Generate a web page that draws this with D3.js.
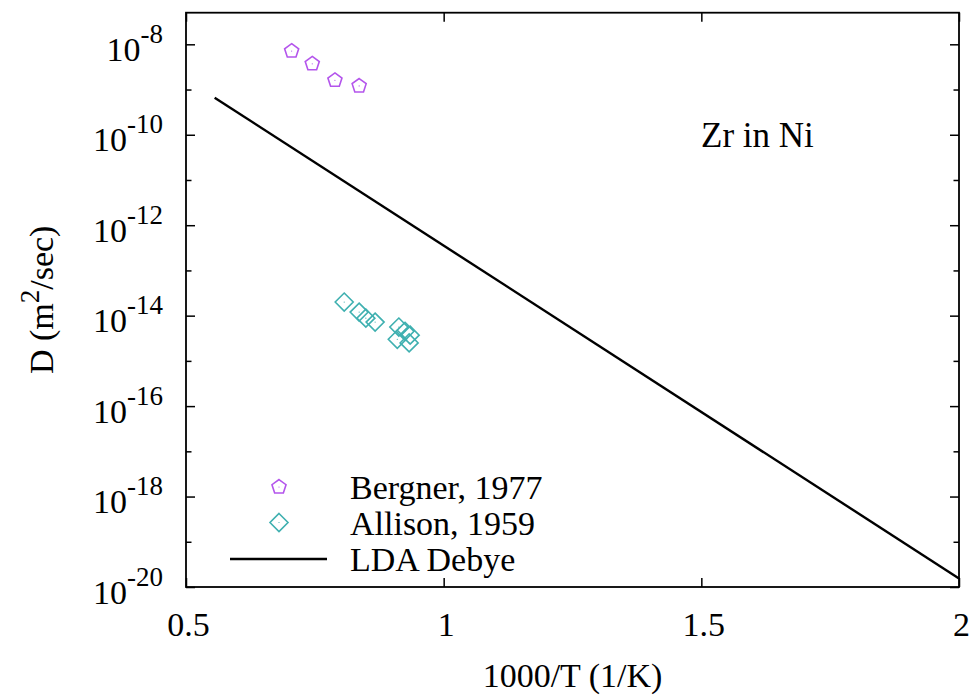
<!DOCTYPE html>
<html>
<head>
<meta charset="utf-8">
<script src="https://cdn.jsdelivr.net/npm/d3@7"></script>
<style>
  html, body { margin: 0; padding: 0; background: #fff; }
  svg { display: block; }
  text { font-family: "Liberation Serif", "Times New Roman", "DejaVu Serif", serif; fill: #000; }
</style>
</head>
<body>
<svg id="chart" width="971" height="695"></svg>
<script>
// Axis ticks
const xTicks = [0.5, 1, 1.5, 2];
const xTickLabels = ["0.5", "1", "1.5", "2"];
const yMajorExp = [-8, -10, -12, -14, -16, -18, -20];
const yMinorExp = [-9, -11, -13, -15, -17, -19];

// Bergner, 1977 (1000/T, D in m^2/s)
const bergnerX = [0.705, 0.745, 0.789, 0.836];
const bergnerD = [7.1e-9, 3.7e-9, 1.6e-9, 1.2e-9];

// Allison, 1959
const allisonX = [0.807, 0.836, 0.849, 0.867, 0.913, 0.925, 0.935, 0.910, 0.933];
const allisonD = [2.0e-14, 1.2e-14, 8.8e-15, 7.2e-15, 5.6e-15, 4.5e-15, 3.7e-15, 3.0e-15, 2.5e-15];

// LDA Debye prediction (Arrhenius line)
const ldaX = [0.5556, 2.0];
const ldaD = [6.6e-10, 1.55e-20];

const W = 971, H = 695;
const margin = { left: 186, right: 12, top: 12.7, bottom: 108 };
const x0 = margin.left, x1 = W - margin.right;
const y0 = margin.top, y1 = H - margin.bottom;

const x = d3.scaleLinear().domain([0.5, 2]).range([x0, x1]);
const y = d3.scaleLog().domain([1e-20, 5e-8]).range([y1, y0]);

const svg = d3.select("#chart");
const fontSize = 34, supSize = 27;
const colBergner = "#b455ec", colAllison = "#3fb0b0";

// Curve
const line = d3.line().x(d => x(d[0])).y(d => y(d[1]));
svg.append("path")
  .datum(d3.zip(ldaX, ldaD))
  .attr("d", line)
  .attr("fill", "none")
  .attr("stroke", "#000")
  .attr("stroke-width", 2.4);

// Marker shapes
function pentagonPath(r) {
  const pts = d3.range(5).map(i => {
    const a = -Math.PI / 2 + i * 2 * Math.PI / 5;
    return [r * Math.cos(a), r * Math.sin(a)];
  });
  return "M" + pts.map(p => p.join(",")).join("L") + "Z";
}
function diamondPath(r) {
  return `M0,${-r}L${r},0L0,${r}L${-r},0Z`;
}

function drawMarkers(g, pts, pathD, color) {
  const m = g.selectAll(null).data(pts).enter().append("g")
    .attr("transform", d => `translate(${x(d[0])},${y(d[1])})`);
  m.append("path").attr("d", pathD)
    .attr("fill", "none").attr("stroke", color).attr("stroke-width", 1.6);
  m.append("circle").attr("r", 0.6).attr("fill", color);
}

const gPts = svg.append("g");
drawMarkers(gPts, d3.zip(allisonX, allisonD), diamondPath(9), colAllison);
drawMarkers(gPts, d3.zip(bergnerX, bergnerD), pentagonPath(7.4), colBergner);

// Axes (ticks inward, mirrored)
const majorLen = 9, minorLen = 5.5;
const yMajor = yMajorExp.map(e => Math.pow(10, e));
const yMinor = yMinorExp.map(e => Math.pow(10, e));

const axL = svg.append("g").attr("transform", `translate(${x0},0)`)
  .call(d3.axisLeft(y).tickValues(yMajor).tickSize(-majorLen).tickPadding(23));
const axLm = svg.append("g").attr("transform", `translate(${x0},0)`)
  .call(d3.axisLeft(y).tickValues(yMinor).tickSize(-minorLen).tickFormat(""));
const axR = svg.append("g").attr("transform", `translate(${x1},0)`)
  .call(d3.axisRight(y).tickValues(yMajor).tickSize(-majorLen).tickFormat(""));
const axRm = svg.append("g").attr("transform", `translate(${x1},0)`)
  .call(d3.axisRight(y).tickValues(yMinor).tickSize(-minorLen).tickFormat(""));
const axB = svg.append("g").attr("transform", `translate(0,${y1})`)
  .call(d3.axisBottom(x).tickValues(xTicks).tickSize(-majorLen)
    .tickFormat((d, i) => xTickLabels[i]));
const axT = svg.append("g").attr("transform", `translate(0,${y0})`)
  .call(d3.axisTop(x).tickValues(xTicks).tickSize(-majorLen).tickFormat(""));

[axL, axLm, axR, axRm, axB, axT].forEach(a => {
  a.select(".domain").remove();
  a.selectAll(".tick line").attr("stroke", "#000").attr("stroke-width", 1.5);
});

// Y tick labels as 10^n
axL.selectAll(".tick text").each(function(d, i) {
  const t = d3.select(this);
  t.text(null).attr("dy", null).attr("y", 16)
    .attr("font-size", fontSize).attr("font-family", null);
  t.append("tspan").text("10");
  t.append("tspan").attr("dy", -18).attr("font-size", supSize)
    .text("-" + Math.abs(yMajorExp[i]));
});

axB.selectAll(".tick text")
  .attr("dy", null).attr("y", 49).attr("dx", 2)
  .attr("font-size", fontSize).attr("font-family", null);

// Frame
svg.append("rect")
  .attr("x", x0).attr("y", y0)
  .attr("width", x1 - x0).attr("height", y1 - y0)
  .attr("fill", "none").attr("stroke", "#000").attr("stroke-width", 1.8);

// Axis titles
svg.append("text")
  .attr("x", (x0 + x1) / 2).attr("y", 687)
  .attr("text-anchor", "middle").attr("font-size", fontSize)
  .text("1000/T (1/K)");

const yl = svg.append("text")
  .attr("transform", `translate(53,${(y0 + y1) / 2}) rotate(-90)`)
  .attr("text-anchor", "middle").attr("font-size", fontSize);
yl.append("tspan").text("D (m");
yl.append("tspan").attr("dy", -14).attr("font-size", supSize).text("2");
yl.append("tspan").attr("dy", 14).text("/sec)");

// Annotation
svg.append("text")
  .attr("x", 701).attr("y", 147).attr("font-size", fontSize + 1)
  .text("Zr in Ni");

// Legend
const legendItems = [
  { label: "Bergner, 1977", kind: "pent", y: 487 },
  { label: "Allison, 1959", kind: "diam", y: 522.5 },
  { label: "LDA Debye", kind: "line", y: 559 }
];
const lg = svg.append("g");
legendItems.forEach(it => {
  if (it.kind === "pent") {
    const g = lg.append("g").attr("transform", `translate(279,${it.y})`);
    g.append("path").attr("d", pentagonPath(7.4)).attr("fill", "none")
      .attr("stroke", colBergner).attr("stroke-width", 1.6);
    g.append("circle").attr("r", 0.6).attr("fill", colBergner);
  } else if (it.kind === "diam") {
    const g = lg.append("g").attr("transform", `translate(279,${it.y})`);
    g.append("path").attr("d", diamondPath(9)).attr("fill", "none")
      .attr("stroke", colAllison).attr("stroke-width", 1.6);
    g.append("circle").attr("r", 0.6).attr("fill", colAllison);
  } else {
    lg.append("line").attr("x1", 230).attr("x2", 327)
      .attr("y1", it.y).attr("y2", it.y)
      .attr("stroke", "#000").attr("stroke-width", 2.4);
  }
  lg.append("text").attr("x", 350).attr("y", it.y + 12)
    .attr("font-size", fontSize).text(it.label);
});
</script>
</body>
</html>
